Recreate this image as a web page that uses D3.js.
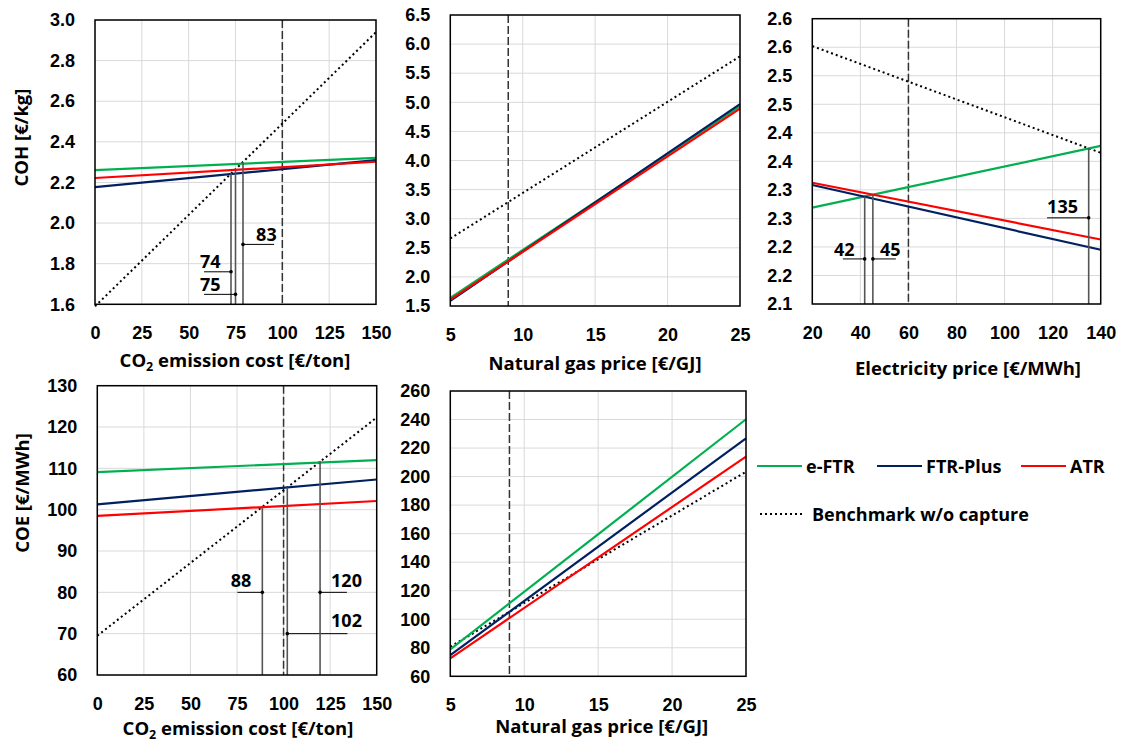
<!DOCTYPE html>
<html lang="en">
<head>
<meta charset="UTF-8">
<title>COH / COE sensitivity</title>
<script src="https://d3js.org/d3.v7.min.js"></script>
<style>
  body { margin: 0; background: #fff; }
  svg { display: block; font-family: "Open Sans", Lato, sans-serif; font-weight: 700; }
  .tick text { font-size: 18px; fill: #000; }
  .note, .legend text { font-size: 18px; fill: #000; }
  .title { font-size: 18.5px; fill: #000; }
  .grid line { stroke: #d9d9d9; stroke-width: 1; }
</style>
</head>
<body>
<svg id="chart" width="1123" height="742"></svg>
<script>
// ---- data ----
const seriesNames = ["e-FTR", "FTR-Plus", "ATR"];
const benchName = "Benchmark w/o capture";

// COH vs CO2 emission cost
const co2Cost = [0, 150];
const cohCo2_eFTR = [2.261, 2.321];
const cohCo2_FTRPlus = [2.177, 2.310];
const cohCo2_ATR = [2.222, 2.302];
const cohCo2_bench = [1.59, 2.94];
const cohCo2_notes = [
  { x: 72.6, top: 2.245, dotY: 1.76, leaderTo: 58.2, label: "74", lx: 56, ly: 1.779 },
  { x: 75.0, top: 2.262, dotY: 1.649, leaderTo: 58.2, label: "75", lx: 56, ly: 1.666 },
  { x: 79.0, top: 2.296, dotY: 1.895, leaderTo: 95.6, label: "83", lx: 86, ly: 1.913 }
];

// COH vs natural gas price
const gasPrice = [5, 25];
const cohGas_eFTR = [1.64, 4.93];
const cohGas_FTRPlus = [1.59, 4.97];
const cohGas_ATR = [1.61, 4.89];
const cohGas_bench = [2.66, 5.79];

// COH vs electricity price
const elecPrice = [20, 140];
const cohElec_eFTR = [2.269, 2.377];
const cohElec_FTRPlus = [2.3085, 2.195];
const cohElec_ATR = [2.3125, 2.213];
const cohElec_bench = [2.552, 2.365];
const cohElec_notes = [
  { x: 41.8, top: 2.288, dotY: 2.179, leaderTo: 32.7, label: "42", lx: 29, ly: 2.184 },
  { x: 45.2, top: 2.292, dotY: 2.179, leaderTo: 54.75, label: "45", lx: 48.2, ly: 2.184 },
  { x: 135, top: 2.373, dotY: 2.251, leaderTo: 117.7, label: "135", lx: 117.7, ly: 2.259 }
];

// COE vs CO2 emission cost
const coeCo2_eFTR = [109.1, 112.0];
const coeCo2_FTRPlus = [101.3, 107.3];
const coeCo2_ATR = [98.5, 102.1];
const coeCo2_bench = [69.5, 122.3];
const coeCo2_notes = [
  { x: 88.6, top: 100.6, dotY: 80, leaderTo: 75.2, label: "88", lx: 71.6, ly: 81.2 },
  { x: 102, top: 105.4, dotY: 70, leaderTo: 134.3, label: "102", lx: 125.5, ly: 71.7 },
  { x: 119.6, top: 111.8, dotY: 80, leaderTo: 134, label: "120", lx: 125.5, ly: 81.2 }
];

// COE vs natural gas price
const coeGas_eFTR = [78.9, 240.2];
const coeGas_FTRPlus = [74.9, 226.8];
const coeGas_ATR = [72.6, 214.0];
const coeGas_bench = [80.7, 203.4];

// ticks
const co2Ticks = [0, 25, 50, 75, 100, 125, 150];
const gasTicks = [5, 10, 15, 20, 25];
const elecTicks = [20, 40, 60, 80, 100, 120, 140];
const cohCo2YTicks = [1.6, 1.8, 2.0, 2.2, 2.4, 2.6, 2.8, 3.0];
const cohGasYTicks = [1.5, 2.0, 2.5, 3.0, 3.5, 4.0, 4.5, 5.0, 5.5, 6.0, 6.5];
const cohElecYTicks = [2.10, 2.15, 2.20, 2.25, 2.30, 2.35, 2.40, 2.45, 2.50, 2.55, 2.60];
const cohElecYLabels = ["2.1", "2.2", "2.2", "2.3", "2.3", "2.4", "2.4", "2.5", "2.5", "2.6", "2.6"];
const coeCo2YTicks = [60, 70, 80, 90, 100, 110, 120, 130];
const coeGasYTicks = [60, 80, 100, 120, 140, 160, 180, 200, 220, 240, 260];

// reference (base case) values
const refCo2 = 100, refGas = 9, refElec = 60;

// ---- drawing ----
const colors = ["#00b050", "#002060", "#ff0000"];
const svg = d3.select("#chart");

const panels = [
  { box: { l: 95, r: 376, t: 20, b: 304.3 }, x: co2Cost, xTicks: co2Ticks, yTicks: cohCo2YTicks,
    series: [cohCo2_eFTR, cohCo2_FTRPlus, cohCo2_ATR], bench: cohCo2_bench, ref: refCo2, notes: cohCo2_notes,
    xTitle: "co2", xt: [235, 367], yTitle: "COH [€/kg]", yt: [28, 137.5] },
  { box: { l: 450.3, r: 740, t: 15, b: 306 }, x: gasPrice, xTicks: gasTicks, yTicks: cohGasYTicks,
    series: [cohGas_eFTR, cohGas_FTRPlus, cohGas_ATR], bench: cohGas_bench, ref: refGas, notes: [],
    xTitle: "Natural gas price [€/GJ]", xt: [595, 370] },
  { box: { l: 812.3, r: 1100.7, t: 18.7, b: 304 }, x: elecPrice, xTicks: elecTicks, yTicks: cohElecYTicks,
    yLabels: cohElecYLabels,
    series: [cohElec_eFTR, cohElec_FTRPlus, cohElec_ATR], bench: cohElec_bench, ref: refElec, notes: cohElec_notes,
    xTitle: "Electricity price [€/MWh]", xt: [968, 375] },
  { box: { l: 97.3, r: 376.7, t: 385.7, b: 675 }, x: co2Cost, xTicks: co2Ticks, yTicks: coeCo2YTicks,
    series: [coeCo2_eFTR, coeCo2_FTRPlus, coeCo2_ATR], bench: coeCo2_bench, ref: refCo2, notes: coeCo2_notes,
    xTitle: "co2", xt: [238, 735], yTitle: "COE [€/MWh]", yt: [29, 493] },
  { box: { l: 450.3, r: 746, t: 391, b: 676.3 }, x: gasPrice, xTicks: gasTicks, yTicks: coeGasYTicks,
    series: [coeGas_eFTR, coeGas_FTRPlus, coeGas_ATR], bench: coeGas_bench, ref: refGas, notes: [],
    xTitle: "Natural gas price [€/GJ]", xt: [601.7, 733] }
];

panels.forEach(p => {
  const b = p.box;
  const xs = d3.scaleLinear().domain(d3.extent(p.xTicks)).range([b.l, b.r]);
  const ys = d3.scaleLinear().domain(d3.extent(p.yTicks)).range([b.b, b.t]);
  const g = svg.append("g");

  // gridlines
  const grid = g.append("g").attr("class", "grid");
  grid.selectAll(".gx").data(p.xTicks).join("line")
    .attr("x1", d => xs(d)).attr("x2", d => xs(d)).attr("y1", b.t).attr("y2", b.b);
  grid.selectAll(".gy").data(p.yTicks).join("line")
    .attr("class", "gy")
    .attr("x1", b.l).attr("x2", b.r).attr("y1", d => ys(d)).attr("y2", d => ys(d));

  // axes (labels only)
  const ax = g.append("g").attr("transform", `translate(0,${b.b})`)
    .call(d3.axisBottom(xs).tickValues(p.xTicks).tickSize(0).tickPadding(22));
  ax.select(".domain").remove();
  const ay = g.append("g").attr("transform", `translate(${b.l},0)`)
    .call(d3.axisLeft(ys).tickValues(p.yTicks).tickSize(0).tickPadding(20)
      .tickFormat((d, i) => p.yLabels ? p.yLabels[i] : (d >= 10 ? d3.format("d")(d) : d3.format(".1f")(d))));
  ay.select(".domain").remove();
  g.selectAll(".tick text").attr("font-family", null).attr("font-size", null);

  // base-case dashed line
  g.append("line")
    .attr("x1", xs(p.ref)).attr("x2", xs(p.ref)).attr("y1", b.t).attr("y2", b.b)
    .attr("stroke", "#333").attr("stroke-width", 1.5).attr("stroke-dasharray", "8,3");

  const line = d3.line().x((d, i) => xs(p.x[i])).y(d => ys(d));

  // benchmark
  g.append("path").datum(p.bench).attr("d", line)
    .attr("fill", "none").attr("stroke", "#000").attr("stroke-width", 2)
    .attr("stroke-dasharray", "2,3");

  // series
  g.selectAll(".series").data(p.series).join("path")
    .attr("class", "series")
    .attr("d", line)
    .attr("fill", "none")
    .attr("stroke", (d, i) => colors[i])
    .attr("stroke-width", 2.2);

  // break-even annotations
  const n = g.selectAll(".nt").data(p.notes).join("g").attr("class", "nt");
  n.append("line")
    .attr("x1", d => xs(d.x)).attr("x2", d => xs(d.x))
    .attr("y1", b.b).attr("y2", d => ys(d.top))
    .attr("stroke", "#555").attr("stroke-width", 1.6);
  n.append("line")
    .attr("x1", d => xs(d.x)).attr("x2", d => xs(d.leaderTo))
    .attr("y1", d => ys(d.dotY)).attr("y2", d => ys(d.dotY))
    .attr("stroke", "#000").attr("stroke-width", 1);
  n.append("circle")
    .attr("cx", d => xs(d.x)).attr("cy", d => ys(d.dotY)).attr("r", 1.8).attr("fill", "#000");
  n.append("text").attr("class", "note")
    .attr("x", d => xs(d.lx)).attr("y", d => ys(d.ly))
    .text(d => d.label);

  // frame
  g.append("rect")
    .attr("x", b.l).attr("y", b.t).attr("width", b.r - b.l).attr("height", b.b - b.t)
    .attr("fill", "none").attr("stroke", "#000").attr("stroke-width", 1.5);

  // axis titles
  const xt = g.append("text").attr("class", "title")
    .attr("x", p.xt[0]).attr("y", p.xt[1]).attr("text-anchor", "middle");
  if (p.xTitle === "co2") {
    xt.append("tspan").text("CO");
    xt.append("tspan").attr("dy", 4).attr("font-size", 12.5).text("2");
    xt.append("tspan").attr("dy", -4).text(" emission cost [€/ton]");
  } else {
    xt.text(p.xTitle);
  }
  if (p.yTitle) {
    g.append("text").attr("class", "title")
      .attr("transform", `translate(${p.yt[0]},${p.yt[1]}) rotate(-90)`)
      .attr("text-anchor", "middle")
      .text(p.yTitle);
  }
});

// legend
const lg = svg.append("g").attr("class", "legend");
const legendItems = [
  { name: seriesNames[0], x: 757, y: 466, color: colors[0] },
  { name: seriesNames[1], x: 877, y: 466, color: colors[1] },
  { name: seriesNames[2], x: 1021, y: 466, color: colors[2] }
];
legendItems.forEach(d => {
  lg.append("line").attr("x1", d.x).attr("x2", d.x + 45).attr("y1", d.y).attr("y2", d.y)
    .attr("stroke", d.color).attr("stroke-width", 2.2);
  lg.append("text").attr("x", d.x + 49).attr("y", d.y + 6.5).text(d.name);
});
lg.append("line").attr("x1", 760).attr("x2", 802).attr("y1", 514).attr("y2", 514)
  .attr("stroke", "#000").attr("stroke-width", 2).attr("stroke-dasharray", "2,3");
lg.append("text").attr("x", 812).attr("y", 520.5).text(benchName);
</script>
</body>
</html>
